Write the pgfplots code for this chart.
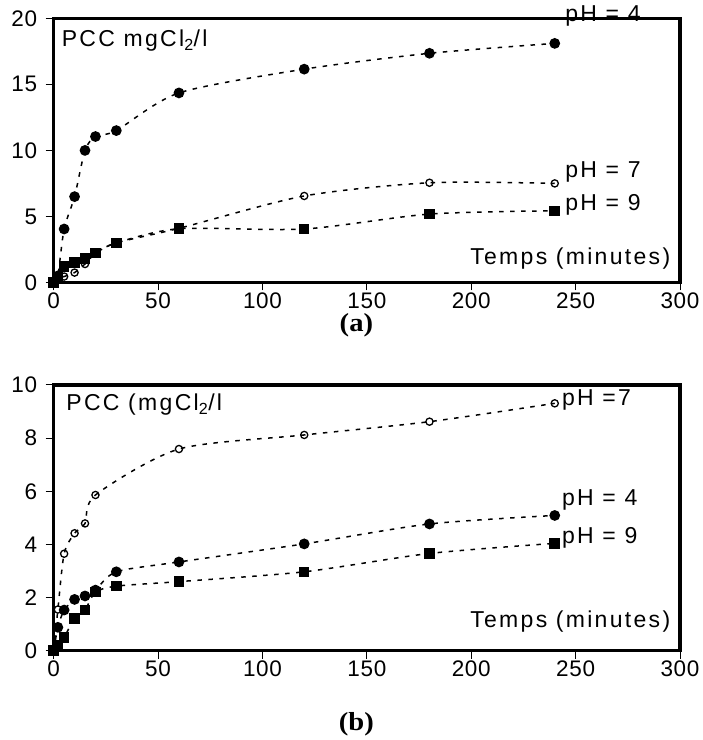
\documentclass[border=0pt]{standalone}
\usepackage{fontspec}
\setmainfont{Liberation Sans}[LetterSpace=10]
\newfontfamily\tickfont{Liberation Sans}[LetterSpace=3]
\newfontfamily\serifbf{Liberation Serif}[FakeStretch=1.1]
\usepackage{pgfplots}
\pgfplotsset{compat=1.18}
\pgfplotsset{
  myax/.style={
    anchor=south west, scale only axis, width=626.3bp,
    xmin=0, xmax=300, xtick={0,50,...,300},
    axis line style={line width=3.5bp, black},
    tick style={line width=1bp, black},
    tick align=outside, major tick length=8bp,
    xtick pos=bottom, ytick pos=left, clip=false,
    /pgf/number format/assume math mode=true,
    ticklabel style={font=\tickfont\fontsize{22.5bp}{25bp}\selectfont},
    xticklabel style={yshift=1bp},
    yticklabel style={xshift=-5bp},
  },
  ln/.style={black, line width=1.5bp, dash pattern=on 4.5bp off 6.5bp, smooth, tension=0.45},
  fc/.style={ln, mark=*, mark size=4.6bp, mark options={solid, draw=black, fill=black}},
  oc/.style={ln, mark=o, mark size=3.6bp, mark options={solid, draw=black, line width=1.3bp, fill=white}},
  sq/.style={ln, mark=square*, mark size=4.5bp, mark options={solid, draw=black, fill=black}},
}
\tikzset{lbl/.style={inner sep=0pt, font=\fontsize{23bp}{26bp}\selectfont},
  captxt/.style={inner sep=0pt, font=\serifbf\bfseries\fontsize{26bp}{29bp}\selectfont}}
\begin{document}
\begin{tikzpicture}
\path (0,0) rectangle (699bp,740bp);
% ---------------- (a)
\begin{axis}[myax, at={(53.7bp,457.5bp)}, height=264.2bp,
  ymin=0, ymax=20, ytick={0,5,...,20}]
\addplot[fc] coordinates {(0,0)(2,0.5)(5,4.05)(10,6.5)(15,10.0)(20,11.05)(30,11.5)(60,14.35)(120,16.15)(180,17.35)(240,18.1)};
\addplot[oc] coordinates {(0,0)(2,0.2)(5,0.45)(10,0.75)(15,1.4)(20,2.2)(30,3.0)(60,4.1)(120,6.55)(180,7.55)(240,7.5)};
\addplot[sq] coordinates {(0,0)(2,0.4)(5,1.2)(10,1.53)(15,1.83)(20,2.25)(30,3.0)(60,4.07)(120,4.05)(180,5.18)(240,5.43)};
\node[lbl, anchor=west] at (axis cs:3.8,18.3) {PCC mgCl\textsubscript{2}/l};
\node[lbl, anchor=east] at (axis cs:295.4,1.85) {Temps (minutes)};
\node[lbl, anchor=west] at (axis cs:245,20.2) {pH = 4};
\node[lbl, anchor=west] at (axis cs:245,8.4) {pH = 7};
\node[lbl, anchor=west] at (axis cs:245,5.86) {pH = 9};
\node[captxt] at (axis cs:145,-3.25) {(a)};
\end{axis}
% ---------------- (b)
\begin{axis}[myax, at={(53.7bp,89.3bp)}, height=265.7bp,
  ymin=0, ymax=10, ytick={0,2,...,10}]
\addplot[oc] coordinates {(0,0)(2,1.55)(5,3.65)(10,4.42)(15,4.79)(20,5.86)(60,7.59)(120,8.12)(180,8.62)(240,9.31)};
\addplot[fc] coordinates {(0,0)(2,0.88)(5,1.53)(10,1.93)(15,2.06)(20,2.28)(30,2.97)(60,3.34)(120,4.02)(180,4.77)(240,5.09)};
\addplot[sq] coordinates {(0,0)(2,0.2)(5,0.5)(10,1.22)(15,1.53)(20,2.2)(30,2.43)(60,2.6)(120,2.97)(180,3.66)(240,4.04)};
\node[lbl, anchor=west] at (axis cs:6,9.25) {PCC (mgCl\textsubscript{2}/l};
\node[lbl, anchor=east] at (axis cs:295.4,1.09) {Temps (minutes)};
\node[lbl, anchor=west] at (axis cs:243.4,9.43) {pH =7};
\node[lbl, anchor=west] at (axis cs:243.4,5.67) {pH = 4};
\node[lbl, anchor=west] at (axis cs:243.4,4.23) {pH = 9};
\node[captxt] at (axis cs:145,-2.75) {(b)};
\end{axis}
\end{tikzpicture}
\end{document}
